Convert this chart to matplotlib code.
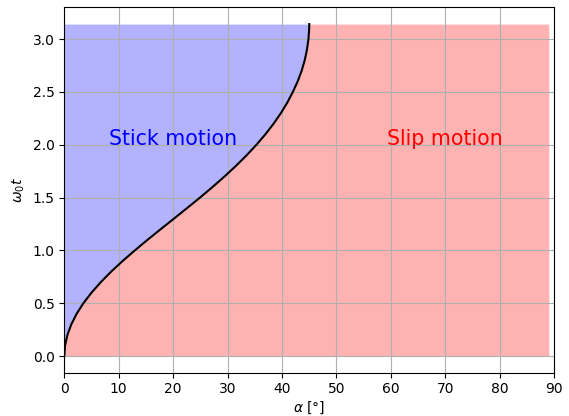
import matplotlib
matplotlib.use('Agg')
import matplotlib.pyplot as plt

# omega_0 t values and the boundary angle alpha (deg)
wt = [0.0, 0.1, 0.2, 0.3, 0.4, 0.5, 0.6, 0.7, 0.8, 0.9, 1.0, 1.1, 1.2, 1.3,
      1.4, 1.5, 1.6, 1.7, 1.8, 1.9, 2.0, 2.1, 2.2, 2.3, 2.4, 2.5, 2.6, 2.7,
      2.8, 2.9, 3.0, 3.1, 3.1416]
alpha = [0.0, 0.14, 0.57, 1.28, 2.26, 3.50, 4.99, 6.71, 8.62, 10.71, 12.95,
         15.28, 17.68, 20.12, 22.54, 24.93, 27.23, 29.44, 31.53, 33.49, 35.30,
         36.96, 38.46, 39.80, 40.98, 41.99, 42.88, 43.60, 44.17, 44.58, 44.86,
         44.99, 45.0]
alpha_max = 89

fig, ax = plt.subplots(figsize=(5.69, 4.16), dpi=100)
ax.fill_betweenx(wt, 0, alpha, color='blue', alpha=0.3, lw=0)
ax.fill_betweenx(wt, alpha, alpha_max, color='red', alpha=0.3, lw=0)
ax.plot(alpha, wt, color='black', lw=1.5)

ax.text(20, 2.0, 'Stick motion', color='blue', fontsize=14.8, ha='center')
ax.text(70, 2.0, 'Slip motion', color='red', fontsize=14.8, ha='center')

ax.set_xlim(0, 90)
ax.set_xlabel(r'$\alpha$ [°]', labelpad=2)
ax.set_ylabel(r'$\omega_0 t$')
ax.grid(True)

plt.subplots_adjust(left=0.113, right=0.974, top=0.982, bottom=0.104)
plt.savefig('out.png', dpi=100)
